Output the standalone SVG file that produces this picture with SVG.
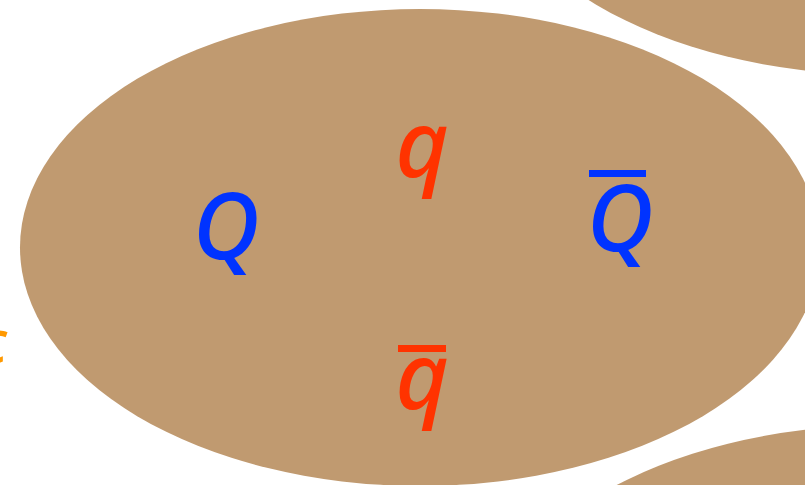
<svg xmlns="http://www.w3.org/2000/svg" width="805" height="485" viewBox="0 0 805 485">
<style>
.blob{fill:#C09A70;}
.lbl{font-family:"Noto Sans","Open Sans","DejaVu Sans",sans-serif;font-style:italic;font-weight:500;font-size:92px;text-anchor:middle;}
.blue{fill:#0033FF;}
.red{fill:#FF3300;}
.orange{fill:#FF9900;}
</style>
<g id="blob-top-right"><ellipse class="blob" cx="879" cy="-164" rx="400" ry="238.5"/></g>
<g id="blob-bottom-right"><ellipse class="blob" cx="881" cy="664" rx="400" ry="238.5"/></g>
<g id="blob-main"><ellipse class="blob" cx="420" cy="247.5" rx="400" ry="238.5"/></g>
<g id="connectors"></g>
<g id="label-Q"><text class="lbl blue" x="226" y="259">Q</text></g>
<g id="label-q"><text class="lbl red" x="422" y="177">q</text></g>
<g id="label-Qbar"><rect class="blue" x="589" y="170" width="57" height="7"/><text class="lbl blue" x="620" y="251">Q</text></g>
<g id="label-qbar"><rect class="red" x="398" y="345" width="48" height="7"/><text class="lbl red" x="422" y="409">q</text></g>
<g id="label-c"><text class="lbl orange" x="-7" y="363" style="font-size:60px">c</text></g>
</svg>
